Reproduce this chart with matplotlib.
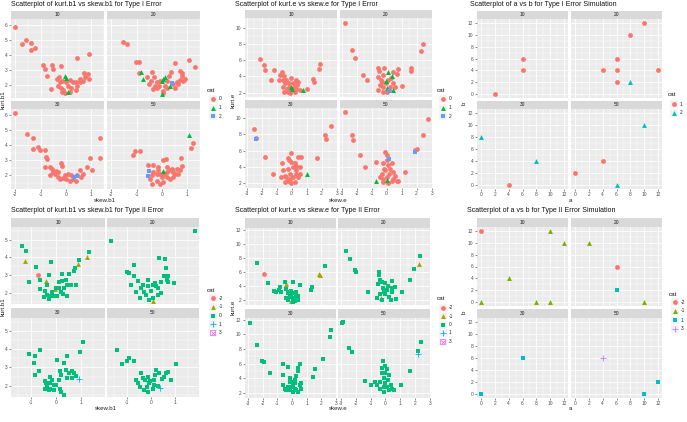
import matplotlib
matplotlib.use('Agg')
import matplotlib.pyplot as plt
from matplotlib.ticker import MultipleLocator
from matplotlib.patches import Rectangle

plt.rcParams['font.family'] = ['Liberation Sans', 'DejaVu Sans']
plt.rcParams['axes.unicode_minus'] = False

# ---------------- data: (x, y, cat) per facet ----------------
facet_labels = ['10', '20', '30', '50']

# Panel 1: kurt.b1 vs skew.b1, Type I
p1_f10 = [(-2.0,5.89,0),(-1.72,4.75,0),(-1.57,4.98,0),(-1.39,4.8,0),(-1.37,4.3,0),(-1.22,4.48,0),(-0.91,3.34,0),(-0.83,3.05,0),(-0.76,2.59,0),(-0.54,3.34,0),(-0.51,3.05,0),(-0.2,3.23,0),(-0.58,1.68,0),(0.43,3.8,0),(0.91,4.07,0),(0.87,2.7,0),(0.91,2.36,0),(0.7,2.75,0),(0.74,2.52,0),(0.54,2.36,0),(0.41,2.14,0),(0.28,2.2,0),(0.14,2.3,0),(-0.14,2.25,0),(-0.25,2.14,0),(-0.3,1.91,0),(-0.18,1.8,0),(-0.12,1.66,0),(-0.17,1.52,0),(-0.04,1.43,0),(0.14,1.52,0),(0.21,1.75,0),(0.08,1.91,0),(0.38,1.64,0),(0.43,1.91,0),(-0.36,2.36,0),(-0.28,2.52,0),(0.54,2.14,0),(0.67,2.25,0),(0.01,2.14,0),(-0.05,2.6,1),(0.0,2.45,1),(0.08,1.52,1)]
p1_f20 = [(-1.55,4.86,0),(-1.39,4.75,0),(-1.03,3.5,0),(-0.89,3.5,0),(-0.89,2.75,0),(-0.61,2.48,0),(-0.41,2.82,0),(-0.45,2.25,0),(-0.32,2.52,0),(-0.21,2.14,0),(-0.28,1.91,0),(-0.18,1.75,0),(-0.11,1.91,0),(0.03,1.57,0),(0.05,1.45,0),(-0.08,2.25,0),(0.29,2.59,0),(0.34,2.86,0),(0.51,3.48,0),(0.71,2.93,0),(0.78,2.59,0),(0.71,2.3,0),(0.82,2.25,0),(0.91,2.36,0),(0.58,2.14,0),(0.45,2.02,0),(0.51,1.8,0),(0.64,2.07,0),(0.78,2.75,0),(1.08,3.66,0),(1.3,3.16,0),(0.18,2.25,0),(0.12,1.91,0),(0.18,1.75,0),(-0.34,1.68,0),(-0.51,2.07,0),(-0.83,2.82,1),(-0.76,2.36,1),(-0.01,2.25,1),(0.05,2.36,1),(0.12,2.48,1),(0.0,1.34,1),(0.32,1.91,1),(0.41,2.11,2)]
p1_f30 = [(-2.0,6.16,0),(-1.54,4.73,0),(-1.3,4.5,0),(-1.3,3.77,0),(-1.11,3.89,0),(-1.01,3.66,0),(-0.83,3.7,0),(-0.78,3.25,0),(-0.75,3.09,0),(-0.84,2.57,0),(-0.64,2.57,0),(-0.54,2.45,0),(-0.62,2.0,0),(-0.45,2.11,0),(-0.38,2.3,0),(-0.32,1.89,0),(-0.25,1.77,0),(-0.12,1.84,0),(-0.18,2.8,0),(-0.14,2.61,0),(0.08,2.11,0),(0.14,1.66,0),(0.38,1.61,0),(0.43,2.0,0),(0.54,2.34,0),(0.67,2.11,0),(0.83,2.57,0),(0.93,3.18,0),(1.04,2.34,0),(1.33,4.5,0),(1.33,3.18,0),(0.28,1.77,0),(0.01,1.77,0),(-0.05,2.0,0),(0.21,2.0,0),(-0.32,2.23,0),(-0.51,2.23,0),(0.61,1.89,0),(0.3,1.89,2),(0.45,1.95,2)]
p1_f50 = [(-1.13,3.36,0),(-1.07,3.59,0),(-0.87,3.59,0),(-0.54,2.68,0),(-0.34,2.68,0),(-0.14,2.57,0),(0.03,3.02,0),(0.16,3.07,0),(0.18,2.57,0),(0.32,2.34,0),(0.45,2.23,0),(0.71,2.34,0),(0.78,2.61,0),(0.74,3.14,0),(1.13,3.82,0),(1.24,4.16,0),(-0.34,2.23,0),(-0.21,2.11,0),(-0.08,2.11,0),(-0.01,1.89,0),(0.05,1.55,0),(-0.08,1.43,0),(-0.41,1.43,0),(-0.47,1.77,0),(0.18,1.89,0),(0.32,1.77,0),(0.45,1.89,0),(0.51,2.11,0),(0.64,2.11,0),(-0.41,2.0,0),(-0.21,1.66,0),(0.08,2.11,0),(0.18,2.23,0),(0.58,2.45,0),(0.38,2.45,0),(-0.14,2.34,0),(1.08,4.68,1),(0.05,2.3,1),(-0.5,2.3,2),(-0.54,1.93,2)]

# Panel 2: kurt.e vs skew.e, Type I
p2_f10 = [(-2.11,6.17,0),(-1.82,5.45,0),(-1.74,4.82,0),(-1.19,4.82,0),(-1.34,3.56,0),(-0.84,3.56,0),(-0.75,4.19,0),(-0.62,4.48,0),(-0.53,4.06,0),(-0.57,3.56,0),(-0.46,3.14,0),(-0.57,2.63,0),(-0.51,2.08,0),(-0.31,2.38,0),(-0.18,2.63,0),(-0.02,3.77,0),(0.09,3.22,0),(0.15,2.63,0),(-0.02,2.29,0),(-0.09,1.96,0),(0.2,2.08,0),(0.31,2.38,0),(0.35,2.93,0),(0.42,3.35,0),(0.31,3.56,0),(-0.18,3.14,0),(-0.35,3.56,0),(0.53,2.29,0),(1.01,2.38,0),(1.41,3.64,0),(1.47,3.35,0),(1.8,4.9,0),(1.91,5.58,0),(-0.24,2.08,0),(-0.07,2.63,1),(0.04,2.38,1),(0.75,2.29,1)]
p2_f20 = [(-2.79,10.6,0),(-2.33,7.26,0),(-2.13,6.29,0),(-1.54,4.19,0),(-1.32,3.56,0),(-0.59,5.03,0),(-0.48,4.61,0),(-0.59,3.98,0),(-0.4,3.56,0),(-0.44,2.93,0),(-0.55,2.29,0),(-0.22,2.63,0),(-0.04,3.14,0),(0.11,3.56,0),(0.29,3.77,0),(0.44,3.14,0),(0.55,2.63,0),(0.18,2.29,0),(0.0,2.08,0),(-0.22,2.08,0),(0.73,4.9,0),(0.66,4.32,0),(1.05,2.8,0),(1.65,5.03,0),(1.65,4.61,0),(2.26,7.14,0),(2.42,7.98,0),(-0.33,3.35,0),(0.4,4.48,0),(-0.22,4.19,0),(0.22,2.72,0),(-0.18,5.03,0),(0.07,4.48,1),(0.33,4.06,1),(-0.04,3.47,1),(0.04,2.5,1),(0.44,2.29,1),(0.18,2.2,2)]
p2_f30 = [(-2.51,8.65,0),(-2.37,7.6,0),(-1.78,5.28,0),(-1.27,3.18,0),(-0.64,4.44,0),(-0.57,3.6,0),(-0.68,2.76,0),(-0.46,2.97,0),(-0.24,3.81,0),(-0.22,5.07,0),(-0.18,4.86,0),(-0.02,4.65,0),(0.09,4.02,0),(0.2,4.44,0),(0.31,4.1,0),(0.42,5.28,0),(0.53,4.02,0),(0.64,5.28,0),(-0.13,3.18,0),(0.09,2.84,0),(0.26,3.18,0),(0.42,2.76,0),(0.53,3.18,0),(-0.24,2.34,0),(-0.02,2.0,0),(0.2,2.13,0),(-0.35,2.76,0),(-0.09,2.55,0),(1.69,5.16,0),(2.22,7.89,0),(2.29,7.39,0),(2.62,8.99,0),(0.31,3.6,0),(-0.46,2.13,0),(-0.02,5.7,0),(1.03,3.1,1),(-2.4,7.39,2)]
p2_f50 = [(-2.75,10.67,0),(-2.33,7.89,0),(-2.26,7.3,0),(-1.8,5.49,0),(-1.47,4.02,0),(-0.73,4.65,0),(-0.11,5.79,0),(0.0,5.49,0),(-0.22,4.44,0),(-0.18,3.81,0),(-0.33,3.18,0),(-0.44,2.76,0),(0.0,2.76,0),(0.18,3.18,0),(0.22,3.81,0),(0.33,4.44,0),(0.44,3.39,0),(0.55,2.97,0),(0.66,2.34,0),(0.77,2.34,0),(0.11,2.0,0),(-0.22,2.13,0),(0.44,2.55,0),(1.21,3.39,0),(0.0,4.86,0),(0.11,4.23,0),(-0.11,3.6,0),(0.33,2.34,0),(1.87,6.04,0),(2.02,6.21,0),(2.42,7.89,0),(2.75,9.92,0),(-0.26,2.55,0),(-0.73,2.34,1),(0.0,2.42,1),(0.13,4.95,2),(1.91,5.83,2)]

# Panel 3: a vs b, Type I simulation
p3_f10 = [(2,0,1),(6,4,1),(6,6,1)]
p3_f20 = [(4,4,1),(6,4,1),(6,6,1),(6,2,1),(8,10,1),(10,12,1),(12,4,1),(8,2,2)]
p3_f30 = [(4,0,1),(0,8,2),(8,4,2)]
p3_f50 = [(0,2,1),(4,4,1),(6,0,2),(10,10,2)]

# Panel 4: kurt.b1 vs skew.b1, Type II
p4_f10 = [(-1.37,4.63,0),(-1.2,4.35,0),(-0.8,3.48,0),(-1.06,2.61,0),(-0.19,3.76,0),(-0.63,2.74,0),(-0.29,3.02,0),(-0.35,2.43,0),(-0.63,2.24,0),(-0.42,2.09,0),(-0.35,1.91,0),(-0.22,1.81,0),(-0.29,1.69,0),(-0.08,1.81,0),(-0.15,2.06,0),(-0.01,2.31,0),(0.12,2.61,0),(0.23,3.06,0),(0.26,2.65,0),(0.39,2.74,0),(0.53,3.06,0),(0.46,2.43,0),(0.33,2.28,0),(0.12,2.28,0),(0.19,2.06,0),(0.46,1.81,0),(0.3,1.94,0),(0.05,1.81,0),(0.73,3.24,0),(0.76,3.39,0),(0.94,3.85,0),(1.31,4.31,0),(0.82,2.46,0),(0.6,2.46,0),(-0.49,1.76,0),(-1.24,3.81,-1),(1.25,4.0,-1),(0.9,3.63,-1),(-0.38,2.65,-1),(-0.04,2.24,-1),(-0.72,3.02,-2)]
p4_f20 = [(-1.63,4.91,0),(1.8,5.48,0),(-0.98,3.2,0),(-0.88,3.11,0),(-0.68,3.57,0),(-0.71,2.98,0),(-0.82,2.43,0),(-0.61,2.06,0),(-0.54,2.65,0),(-0.41,2.28,0),(-0.34,2.46,0),(-0.27,2.06,0),(-0.44,1.72,0),(-0.2,1.91,0),(-0.14,2.37,0),(0.0,2.09,0),(0.07,2.46,0),(0.2,2.37,0),(0.16,2.56,0),(0.3,2.28,0),(0.41,2.0,0),(0.27,1.87,0),(0.07,1.72,0),(-0.07,1.63,0),(0.34,3.98,0),(0.57,3.91,0),(0.61,3.43,0),(0.54,2.93,0),(0.68,2.93,0),(0.65,2.74,0),(0.71,2.61,0),(0.95,2.56,0),(0.41,2.61,0),(-0.14,2.74,0),(0.1,1.54,-1)]
p4_f30 = [(-1.06,3.74,0),(-0.83,3.65,0),(-0.65,3.93,0),(-0.87,3.27,0),(-0.69,2.83,0),(-0.83,2.59,0),(-0.42,2.28,0),(-0.38,2.13,0),(-0.35,1.94,0),(-0.29,1.76,0),(-0.22,1.85,0),(-0.15,2.31,0),(-0.08,2.07,0),(-0.24,2.5,0),(0.05,3.41,0),(0.12,2.31,0),(0.16,2.83,0),(0.22,2.59,0),(0.33,3.27,0),(0.44,3.6,0),(0.39,2.86,0),(0.53,2.68,0),(0.63,2.83,0),(0.73,2.68,0),(0.8,2.53,0),(0.22,1.67,0),(0.33,1.49,0),(0.16,1.85,0),(-0.01,2.04,0),(0.46,2.4,0),(0.63,2.4,0),(0.98,3.87,0),(1.07,4.37,0),(-0.08,1.76,0),(-0.22,2.13,0),(-0.42,1.85,0),(0.94,2.35,1)]
p4_f50 = [(-1.39,3.96,0),(-1.2,3.17,0),(-0.98,3.38,0),(-0.88,3.5,0),(-0.71,3.38,0),(-0.61,2.31,0),(-0.52,2.17,0),(-0.41,2.68,0),(-0.34,2.4,0),(-0.24,2.31,0),(-0.14,2.5,0),(-0.07,2.13,0),(-0.16,1.91,0),(-0.27,1.76,0),(-0.14,1.67,0),(0.07,1.8,0),(0.14,2.31,0),(0.16,2.59,0),(0.2,2.86,0),(0.34,2.68,0),(0.44,2.35,0),(0.52,2.5,0),(0.61,2.68,0),(0.68,2.77,0),(0.82,2.31,0),(1.01,3.19,0),(0.27,1.98,0),(-0.44,1.94,0),(0.11,2.04,0),(-0.03,2.28,0),(0.38,1.9,1)]

# Panel 5: kurt.e vs skew.e, Type II
p5_f10 = [(-2.36,7.24,0),(2.23,6.81,0),(-1.64,4.45,0),(-1.23,3.27,0),(-1.11,3.08,0),(-0.89,3.42,0),(-0.8,3.89,0),(-0.73,3.08,0),(-0.5,4.5,0),(0.07,4.59,0),(0.52,4.21,0),(1.27,3.42,0),(1.39,3.89,0),(-0.39,3.56,0),(-0.27,2.94,0),(-0.16,2.47,0),(-0.05,2.71,0),(0.07,2.24,0),(0.18,2.94,0),(0.3,2.47,0),(0.41,2.0,0),(0.07,1.76,0),(-0.27,2.0,0),(-0.16,3.18,0),(0.3,3.08,0),(0.41,2.61,0),(-0.39,2.33,0),(0.18,1.86,0),(-0.05,3.27,0),(-1.91,5.77,-2),(-0.39,4.22,-1),(1.84,5.77,-1),(1.89,5.54,-1),(-0.05,1.86,-1)]
p5_f20 = [(-2.68,8.98,0),(-2.39,7.9,0),(-2.05,6.25,0),(-1.98,5.92,0),(-1.2,3.08,0),(-0.45,6.0,0),(-0.41,5.54,0),(-0.34,4.83,0),(-0.5,4.22,0),(-0.23,4.5,0),(0.0,4.36,0),(0.18,4.03,0),(0.41,4.69,0),(0.11,3.42,0),(-0.11,3.18,0),(-0.34,2.8,0),(-0.57,2.24,0),(-0.23,2.0,0),(0.23,2.47,0),(0.45,3.08,0),(0.64,3.89,0),(0.7,2.14,0),(1.11,3.08,0),(1.64,4.83,0),(1.93,6.48,0),(2.34,8.23,0),(0.0,2.8,0),(0.34,2.0,0),(-0.18,3.75,0),(0.45,3.65,0),(2.27,7.19,-1),(-0.27,2.24,-1)]
p5_f30 = [(-2.89,11.6,0),(-2.36,8.55,0),(-2.05,6.4,0),(-1.91,6.16,0),(-1.52,4.73,0),(-0.61,5.92,0),(-0.61,4.49,0),(-0.27,5.54,0),(-0.16,4.01,0),(-0.05,3.53,0),(0.07,3.05,0),(0.18,3.77,0),(0.3,4.25,0),(0.41,5.44,0),(0.52,5.92,0),(0.41,4.97,0),(0.52,3.05,0),(-0.27,2.81,0),(-0.5,2.57,0),(-0.61,3.05,0),(-0.16,2.33,0),(0.18,2.57,0),(0.3,2.33,0),(0.41,2.1,0),(0.07,2.1,0),(-0.39,2.33,0),(-0.05,2.81,0),(0.64,2.57,0),(0.64,3.29,0),(1.43,4.11,0),(1.55,5.2,0),(2.11,6.64,0),(2.57,9.61,0),(2.68,10.55,0),(0.18,3.29,0),(-0.16,3.53,0)]
p5_f50 = [(-2.93,11.6,0),(-2.87,11.7,0),(-2.43,8.17,0),(-2.27,7.6,0),(-1.36,3.63,0),(-0.95,3.05,0),(-0.68,3.53,0),(-0.57,3.05,0),(-0.18,6.4,0),(-0.23,5.44,0),(-0.05,5.68,0),(0.11,5.2,0),(0.0,4.73,0),(-0.23,4.73,0),(-0.11,4.01,0),(0.23,4.49,0),(0.18,3.77,0),(-0.34,3.53,0),(0.0,3.29,0),(0.34,3.05,0),(0.45,2.57,0),(0.57,2.33,0),(0.23,2.33,0),(-0.11,2.1,0),(-0.34,2.57,0),(0.11,2.81,0),(1.02,3.05,0),(1.64,4.97,0),(2.39,8.89,0),(2.16,7.74,0),(-0.11,2.81,0),(2.16,7.3,1)]

# Panel 6: a vs b, Type II simulation
p6_f10 = [(0,12,-2),(10,12,-1),(12,10,-1),(4,4,-1),(0,0,-1),(8,0,-1),(10,0,-1)]
p6_f20 = [(2,10,-1),(10,0,-1),(6,6,-2),(6,2,1)]
p6_f30 = [(0,0,1),(6,6,1)]
p6_f50 = [(4,6,3),(10,0,1),(12,2,1)]

# ---------------- styles ----------------
sty3 = {0: ('#F8766D', 'o'), 1: ('#00BA38', '^'), 2: ('#619CFF', 's')}
sty2 = {1: ('#F8766D', 'o'), 2: ('#00BFC4', '^')}
sty5 = {-2: ('#F8766D', 'o'), -1: ('#A3A500', '^'), 0: ('#00BF7D', 's'), 1: ('#00B0F6', '+'), 3: ('#E76BF3', 'sx')}
sty4 = {-2: ('#F8766D', 'o'), -1: ('#7CAE00', '^'), 1: ('#00BFC4', 's'), 3: ('#C77CFF', '+')}

W, H = 687, 422
fig = plt.figure(figsize=(W / 100, H / 100), dpi=100)
fig.patch.set_facecolor('white')

def box(l, t, r, b):
    return [l / W, 1 - b / H, (r - l) / W, (b - t) / H]

SIZES = {'o': 12, '^': 12.5, 's': 10, '+': 18}

def draw_marker(ax, xs, ys, color, mk, scale=1.0, **kw):
    if mk == 'sx':
        ax.scatter(xs, ys, marker='s', s=12 * scale, facecolors='none', edgecolors=color, linewidths=0.5, zorder=3, **kw)
        ax.scatter(xs, ys, marker='x', s=8 * scale, c=color, linewidths=0.5, zorder=3, **kw)
    elif mk == '+':
        ax.scatter(xs, ys, marker='+', s=SIZES['+'] * scale, c=color, linewidths=0.6, zorder=3, **kw)
    else:
        ax.scatter(xs, ys, marker=mk, s=SIZES[mk] * scale, c=color, linewidths=0, zorder=3, **kw)

def facet(rect, pts, sty, xlim, ylim, xmaj, ymaj, show_x, show_y):
    ax = fig.add_axes(box(*rect))
    ax.set_facecolor('#EBEBEB')
    for s in ax.spines.values():
        s.set_visible(False)
    ax.set_xlim(xlim)
    ax.set_ylim(ylim)
    ax.xaxis.set_major_locator(MultipleLocator(xmaj))
    ax.yaxis.set_major_locator(MultipleLocator(ymaj))
    ax.xaxis.set_minor_locator(MultipleLocator(xmaj / 2))
    ax.yaxis.set_minor_locator(MultipleLocator(ymaj / 2))
    ax.grid(which='major', color='white', lw=0.6)
    ax.grid(which='minor', color='white', lw=0.3)
    ax.set_axisbelow(True)
    ax.tick_params(which='minor', length=0)
    ax.tick_params(which='major', length=1.5, width=0.4, color='#333333',
                   labelsize=3.5, labelcolor='#4D4D4D', pad=1)
    if not show_x:
        ax.tick_params(axis='x', which='major', labelbottom=False, length=0)
    if not show_y:
        ax.tick_params(axis='y', which='major', labelleft=False, length=0)
    for cat, (color, mk) in sty.items():
        xs = [p[0] for p in pts if p[2] == cat]
        ys = [p[1] for p in pts if p[2] == cat]
        if xs:
            draw_marker(ax, xs, ys, color, mk)
    return ax

def strip(rect, label):
    ax = fig.add_axes(box(*rect))
    ax.set_facecolor('#D9D9D9')
    ax.set_xticks([]); ax.set_yticks([])
    for s in ax.spines.values():
        s.set_visible(False)
    ax.text(0.5, 0.5, label, ha='center', va='center', fontsize=3.5, color='#1A1A1A', transform=ax.transAxes)

def panel(xl, xr, ys, data, sty, xlim, ylim, xmaj, ymaj):
    for i, pts in enumerate(data):
        row, col = divmod(i, 2)
        st, pt, pb = ys[row]
        l, r = (xl, xr)[col]
        strip((l, st, r, pt), facet_labels[i])
        facet((l, pt, r, pb), pts, sty, xlim, ylim, xmaj, ymaj, row == 1, col == 0)

# Panel 1
panel((11, 104), (107, 200), [(11, 19, 98), (101, 109, 189)],
      [p1_f10, p1_f20, p1_f30, p1_f50], sty3, (-2.17, 1.5), (1.1, 6.4), 1, 1)
# Panel 2
panel((245, 337), (340, 432), [(10, 18, 97), (100, 108, 188)],
      [p2_f10, p2_f20, p2_f30, p2_f50], sty3, (-3.1, 3.02), (1.45, 11.2), 1, 2)
# Panel 3
panel((477, 568), (571, 662), [(11, 19, 98), (101, 109, 189)],
      [p3_f10, p3_f20, p3_f30, p3_f50], sty2, (-0.6, 12.6), (-0.6, 12.6), 2, 2)
# Panel 4
panel((11, 105), (107, 199), [(218, 227, 304), (308, 318, 397)],
      [p4_f10, p4_f20, p4_f30, p4_f50], sty5, (-1.8, 1.97), (1.39, 5.7), 1, 1)
# Panel 5
panel((245, 336), (338, 430), [(218, 228, 305), (309, 318, 398)],
      [p5_f10, p5_f20, p5_f30, p5_f50], sty5, (-3.2, 3.0), (1.3, 12.24), 1, 2)
# Panel 6
panel((477, 568), (571, 662), [(218, 227, 306), (309, 318, 398)],
      [p6_f10, p6_f20, p6_f30, p6_f50], sty4, (-0.6, 12.6), (-0.6, 12.6), 2, 2)

# ---------------- overlay: titles, axis labels, legends ----------------
ov = fig.add_axes([0, 0, 1, 1])
ov.set_xlim(0, W)
ov.set_ylim(H, 0)
ov.axis('off')
ov.patch.set_alpha(0)

titles = [
    ('Scatterplot of kurt.b1 vs skew.b1 for Type I Error', 11, 4.5),
    ('Scatterplot of kurt.e vs skew.e for Type I Error', 235, 4.5),
    ('Scatterplot of a vs b for Type I Error Simulation', 470, 4.5),
    ('Scatterplot of kurt.b1 vs skew.b1 for Type II Error', 11, 211),
    ('Scatterplot of kurt.e vs skew.e for Type II Error', 235, 211),
    ('Scatterplot of a vs b for Type II Error Simulation', 467, 211),
]
title_objs = []
for t, x, y in titles:
    title_objs.append(ov.text(x, y, t, fontsize=5.9, color='#111111', ha='left', va='center'))

# fit title font size so the first title spans about 147 px as in the reference
fig.canvas.draw()
rend = fig.canvas.get_renderer()
w0 = title_objs[0].get_window_extent(renderer=rend).width
fs = 5.9 * 147.0 / w0
for tobj in title_objs:
    tobj.set_fontsize(fs)

xlabels = [('skew.b1', 105, 200), ('skew.e', 338, 200), ('a', 570, 200),
           ('skew.b1', 106, 409), ('skew.e', 338, 409), ('a', 570, 409)]
for t, x, y in xlabels:
    ov.text(x, y, t, fontsize=4.4, color='#222222', ha='center', va='center')

ylabels = [('kurt.b1', 3.5, 100), ('kurt.e', 233, 100), ('b', 464, 103),
           ('kurt.b1', 3.5, 307), ('kurt.e', 233, 307), ('b', 464, 312)]
for t, x, y in ylabels:
    ov.text(x, y, t, fontsize=4.4, color='#222222', ha='center', va='center', rotation=90)

legends = [
    (207, 90, [99, 107.5, 116], sty3, ['0', '1', '2']),
    (437, 90, [99, 107.5, 116], sty3, ['0', '1', '2']),
    (668, 95, [104, 112.5], sty2, ['1', '2']),
    (207, 290, [298, 307, 315.5, 324, 332.5], sty5, ['-2', '-1', '0', '1', '3']),
    (437, 298, [307.5, 316, 324.5, 333, 341.5], sty5, ['-2', '-1', '0', '1', '3']),
    (669, 294, [302, 311, 320, 329], sty4, ['-2', '-1', '1', '3']),
]
for lx, ly, eys, sty, labs in legends:
    ov.text(lx, ly, 'cat', fontsize=4.5, color='#111111', ha='left', va='center')
    mx = lx + 5.5
    for (cat, (color, mk)), ey, lab in zip(sty.items(), eys, labs):
        ov.add_patch(Rectangle((mx - 4, ey - 4), 8, 8, facecolor='#F2F2F2', edgecolor='white', lw=0.3))
        draw_marker(ov, [mx], [ey], color, mk, scale=1.0)
        ov.text(mx + 6, ey, lab, fontsize=3.5, color='#222222', ha='left', va='center')

fig.savefig('out.png', dpi=100)
